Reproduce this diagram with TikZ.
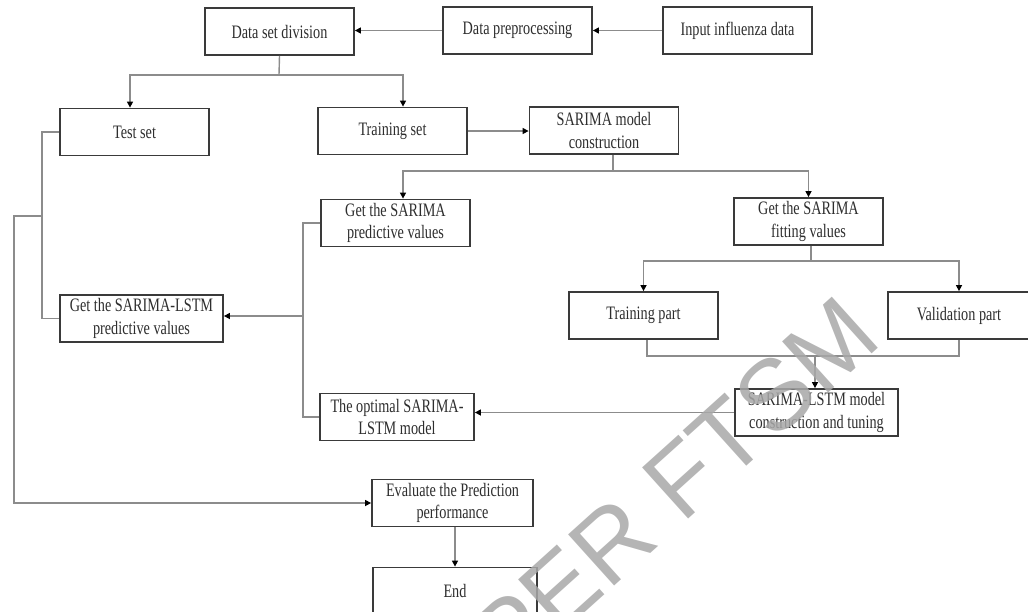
\documentclass[tikz,border=0pt]{standalone}
\usepackage{fontspec}
\setmainfont{Liberation Serif}[FakeStretch=0.75]
\newfontfamily\wmfont{Liberation Sans}
\usetikzlibrary{arrows.meta}
\definecolor{boxline}{HTML}{3A3A3A}
\definecolor{linkline}{HTML}{8C8C8C}
\definecolor{txt}{HTML}{2E2E2E}
\definecolor{wm}{HTML}{A8A8A8}

\begin{document}
\begin{tikzpicture}[x=1pt,y=-1pt,
  stepbox/.style={draw=boxline, line width=1.8pt, fill=white, text=txt,
    minimum width=#1, minimum height=47pt, inner sep=0pt, align=center,
    font=\fontsize{19}{22.5}\selectfont},
  stepbox/.default=149pt,
  link/.style={draw=linkline, line width=1.4pt},
  arr/.style={link, -{Triangle[length=6pt,width=6pt,color=black,fill=black]}},
]
\useasboundingbox (0,0) rectangle (1028,611);

% process boxes
\node[stepbox] (dsd) at (279.5,31.5) {Data set division};
\node[stepbox] (pre) at (517.5,30.5) {Data preprocessing};
\node[stepbox] (inp) at (737.5,30.5) {Input influenza data};
\node[stepbox] (test) at (134.5,132) {Test set};
\node[stepbox] (train) at (392.5,131) {Training set};
\node[stepbox] (sar) at (604,130.5) {SARIMA model\\construction};
\node[stepbox] (pred) at (395.5,223) {Get the SARIMA\\predictive values};
\node[stepbox] (fit) at (808.5,221.5) {Get the SARIMA\\fitting values};
\node[stepbox=163pt] (lpred) at (141.5,318.5) {Get the SARIMA-LSTM\\predictive values};
\node[stepbox] (trp) at (643.5,315.5) {Training part};
\node[stepbox=142pt] (valp) at (959,315.5) {Validation part};
\node[stepbox=154pt] (opt) at (397,417) {The optimal SARIMA-\\LSTM model};
\node[stepbox=163pt] (cons) at (816.5,412.5) {SARIMA-LSTM model\\construction and tuning};
\node[stepbox=161pt] (eval) at (452.5,503) {Evaluate the Prediction\\performance};
\node[stepbox=164pt] (end) at (455,591) {End};

% branching points
\coordinate (s1) at (279,75);
\coordinate (s2) at (613,171);
\coordinate (s3) at (811,261);
\coordinate (j1) at (815,356);
\coordinate (v1) at (303,316);
\coordinate (v2) at (42,216);
\coordinate (v3) at (14,216);

% connectors
\draw[arr] (inp.west) -- (pre.east);
\draw[arr] (pre.west) -- (pre.west -| dsd.east);
\draw[link] (dsd.south) -- (s1);
\draw[arr] (s1) -| ([xshift=-4.5pt]test.north);
\draw[arr] (s1) -| ([xshift=10.5pt]train.north);
\draw[arr] (train.east) -- (train.east -| sar.west);
\draw[link] ([xshift=9pt]sar.south) -- (s2);
\draw[arr] (s2) -| ([xshift=7.5pt]pred.north);
\draw[arr] (s2) -| (fit.north);
\draw[link] ([xshift=2.5pt]fit.south) -- (s3);
\draw[arr] (s3) -| (trp.north);
\draw[arr] (s3) -| (valp.north);
\draw[link] ([xshift=3.5pt]trp.south) |- (j1);
\draw[link] (valp.south) |- (j1);
\draw[arr] (j1) -- (j1 |- cons.north);
\draw[arr] (cons.west) -- (cons.west -| opt.east);
\draw[link] (pred.west) -| (v1) |- (opt.west);
\draw[arr] (v1) -- (v1 -| lpred.east);
\draw[link] (test.west) -| (v2) |- (lpred.west);
\draw[arr] (v2) -- (v3) |- (eval.west);
\draw[arr] (eval.south -| end.north) -- (end.north);

% watermark
\node[rotate=42, text=wm, opacity=0.85, font=\wmfont\fontsize{100}{100}\selectfont]
  (wmark) at (674,486) {PER FTSM};
\end{tikzpicture}
\end{document}
